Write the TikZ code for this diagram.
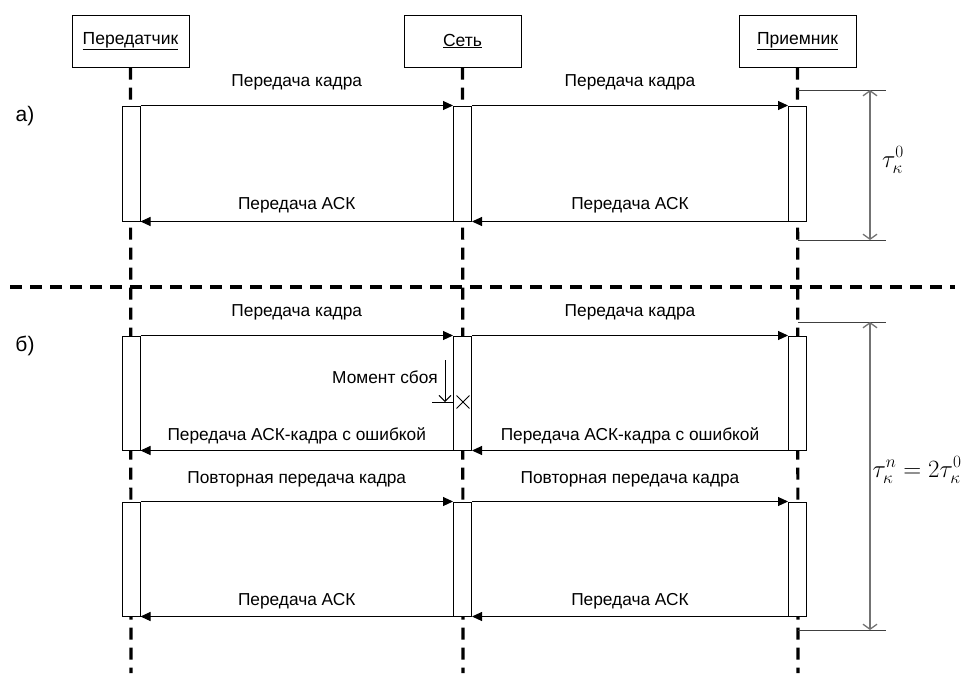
\documentclass[tikz,border=0pt]{standalone}
\usepackage{fontspec}
\setmainfont{Liberation Sans}
\usetikzlibrary{arrows.meta,shapes.misc}
\begin{document}
\begin{tikzpicture}[x=1pt,y=-1pt,
  hdr/.style={draw, line width=1pt, minimum width=117pt, minimum height=52pt, inner sep=0pt, font=\fontsize{17.5}{20}\selectfont},
  act/.style={draw, fill=white, line width=1pt, minimum width=18pt, inner sep=0pt},
  life/.style={line width=3.2pt, dash pattern=on 12pt off 8pt},
  msg/.style={line width=1pt, -{Triangle[length=10pt,width=9pt]}},
  lbl/.style={font=\fontsize{17.3}{20}\selectfont, inner sep=0pt},
  sec/.style={font=\fontsize{21}{24}\selectfont, inner sep=0pt},
  dim/.style={line width=1.3pt, draw=black!55, {Straight Barb[length=5pt,width=14pt]}-{Straight Barb[length=5pt,width=14pt]}},
  ext/.style={line width=1pt, draw=black!75},
  tau/.style={font=\fontsize{24}{28}\selectfont, inner sep=0pt},
]
\useasboundingbox (0,0) rectangle (965,673);
% headers
\node[hdr] (h1) at (130.5,41) {\underline{Передатчик}};
\node[hdr] (h2) at (462.5,41) {\underline{Сеть}};
\node[hdr] (h3) at (797.5,41) {\underline{Приемник}};
% lifelines
\coordinate (e1) at (131,673);
\coordinate (e2) at (463,673);
\coordinate (e3) at (798,673);
\draw[life] (h1.south) -- (e1);
\draw[life] (h2.south) -- (e2);
\draw[life] (h3.south) -- (e3);
% separator
\coordinate (sL) at (10,287);
\coordinate (sR) at (955,287);
\draw[life] (sL) -- (sR);
% section labels
\node[sec] (la) at (25,116) {а)};
\node[sec] (lb) at (25,346) {б)};
% activations a
\node[act, minimum height=115pt] (t1) at (131,163.5) {};
\node[act, minimum height=115pt] (n1) at (462.5,163.5) {};
\node[act, minimum height=115pt] (r1) at (797.5,163.5) {};
% activations b
\node[act, minimum height=114pt] (t2) at (131,393) {};
\node[act, minimum height=114pt] (n2) at (462.5,393) {};
\node[act, minimum height=114pt] (r2) at (797.5,393) {};
\node[act, minimum height=114pt] (t3) at (131,559) {};
\node[act, minimum height=114pt] (n3) at (462.5,559) {};
\node[act, minimum height=114pt] (r3) at (797.5,559) {};
% messages a
\draw[msg] (t1.north east) -- node[lbl,yshift=23pt]{Передача кадра} (n1.north west);
\draw[msg] (n1.north east) -- node[lbl,yshift=23pt]{Передача кадра} (r1.north west);
\draw[msg] (r1.south west) -- node[lbl,yshift=16pt]{Передача АСК} (n1.south east);
\draw[msg] (n1.south west) -- node[lbl,yshift=16pt]{Передача АСК} (t1.south east);
% messages b
\draw[msg] (t2.north east) -- node[lbl,yshift=23pt]{Передача кадра} (n2.north west);
\draw[msg] (n2.north east) -- node[lbl,yshift=23pt]{Передача кадра} (r2.north west);
\draw[msg] (r2.south west) -- node[lbl,yshift=15pt]{Передача АСК-кадра с ошибкой} (n2.south east);
\draw[msg] (n2.south west) -- node[lbl,yshift=15pt]{Передача АСК-кадра с ошибкой} (t2.south east);
\draw[msg] (t3.north east) -- node[lbl,yshift=22pt]{Повторная передача кадра} (n3.north west);
\draw[msg] (n3.north east) -- node[lbl,yshift=22pt]{Повторная передача кадра} (r3.north west);
\draw[msg] (r3.south west) -- node[lbl,yshift=15pt]{Передача АСК} (n3.south east);
\draw[msg] (n3.south west) -- node[lbl,yshift=15pt]{Передача АСК} (t3.south east);
% failure moment
\node[lbl, anchor=east] (mt) at (438,377) {Момент сбоя};
\coordinate (m1) at (445,360);
\coordinate (m2) at (445,402);
\draw[line width=0.9pt, -{Straight Barb[length=6pt,width=12pt]}] (m1) -- (m2);
\coordinate (h0) at (432,402);
\draw[line width=0.9pt] (h0) -- (h0 -| n2.west);
\node[draw, cross out, line width=0.9pt, minimum size=12pt, inner sep=0pt] (cx) at (463,402) {};
% dimension a
\coordinate (d1a) at (798,90);
\coordinate (d1b) at (886,90);
\coordinate (d2a) at (798,240);
\coordinate (d2b) at (886,240);
\draw[ext] (d1a) -- (d1b);
\draw[ext] (d2a) -- (d2b);
\coordinate (v1) at (870,90);
\coordinate (v2) at (870,240);
\draw[dim] (v1) -- (v2);
\node[tau] (ta) at (893,160) {$\tau_{\kappa}^{0}$};
% dimension b
\coordinate (d3a) at (798,322);
\coordinate (d3b) at (886,322);
\coordinate (d4a) at (798,630);
\coordinate (d4b) at (886,630);
\draw[ext] (d3a) -- (d3b);
\draw[ext] (d4a) -- (d4b);
\coordinate (v3) at (870,322);
\coordinate (v4) at (870,630);
\draw[dim] (v3) -- (v4);
\node[tau] (tb) at (917,470) {$\tau_{\kappa}^{n} = 2\tau_{\kappa}^{0}$};
\end{tikzpicture}
\end{document}
